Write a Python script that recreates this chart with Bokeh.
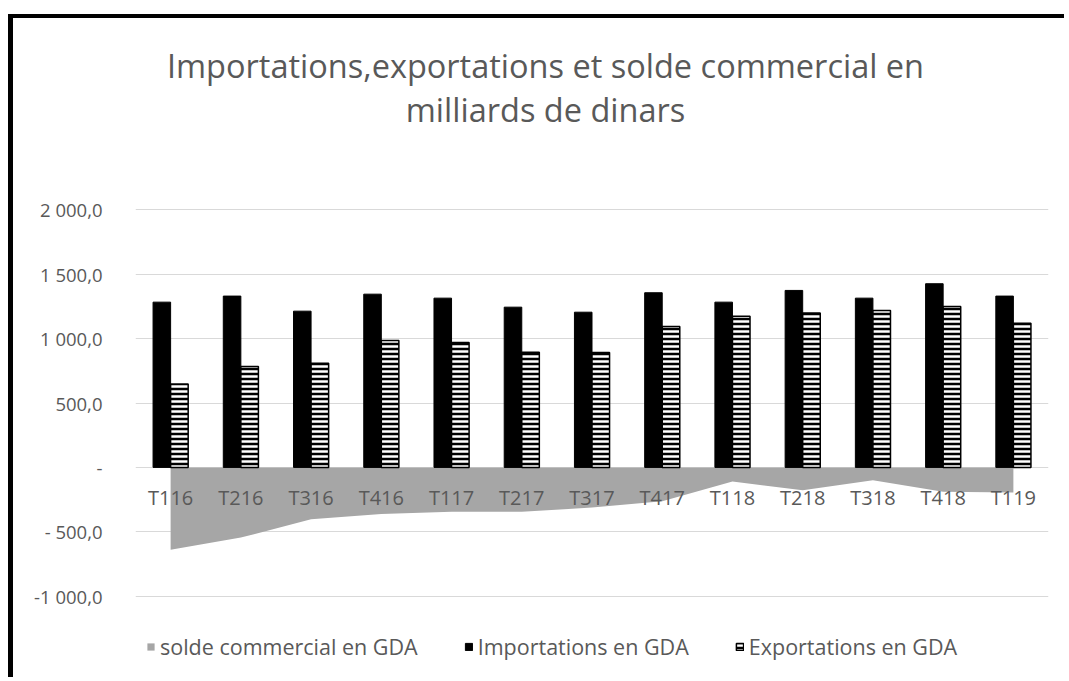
from bokeh.plotting import figure
from bokeh.models import (FactorRange, Legend, LegendItem, Label,
                          ColumnDataSource, FixedTicker, Range1d)
from bokeh.transform import dodge
from bokeh.core.properties import value
from bokeh.embed import file_html
from bokeh.resources import INLINE

quarters = ["T116", "T216", "T316", "T416", "T117", "T217", "T317",
            "T417", "T118", "T218", "T318", "T418", "T119"]
imports = [1283, 1330, 1213, 1345, 1314, 1244, 1205, 1356, 1283, 1374, 1314, 1426, 1330]
exports = [648, 783, 809, 985, 970, 894, 893, 1094, 1174, 1198, 1218, 1250, 1120]
solde = [-640, -545, -402, -362, -345, -345, -312, -262, -109, -178, -100, -188, -195]
y_ticks = [-1000, -500, 0, 500, 1000, 1500, 2000]
y_tick_labels = ["-1 000,0", "- 500,0", "-", "500,0", "1 000,0", "1 500,0", "2 000,0"]
title_lines = ["Importations,exportations et solde commercial en", "milliards de dinars"]
legend_labels = ["solde commercial en GDA", "Importations en GDA", "Exportations en GDA"]

FONT = "Open Sans"
GREY_TXT = "#595959"

src = ColumnDataSource(dict(q=quarters, imp=imports, exp=exports, sol=solde,
                            zero=[0] * len(quarters), lab_y=[-235] * len(quarters)))

# frame spans the full canvas height; only the fixed ticks get grid lines
p = figure(width=1056, height=663, x_range=FactorRange(*quarters, range_padding=0),
           y_range=Range1d(-1662, 3485), output_backend="svg", toolbar_location=None,
           x_axis_location=None, min_border_left=122, min_border_right=21,
           min_border_top=0, min_border_bottom=0)
p.styles = {"margin-left": "8px", "margin-top": "14px",
            "border-top": "4px solid black", "border-left": "5px solid black"}
p.outline_line_color = None
p.xgrid.visible = False
p.ygrid.grid_line_color = "#d9d9d9"
p.ygrid.grid_line_width = 1
p.yaxis.ticker = FixedTicker(ticks=y_ticks)
p.yaxis.major_label_overrides = {t: l for t, l in zip(y_ticks, y_tick_labels)}
p.yaxis.axis_line_color = None
p.yaxis.major_tick_line_color = None
p.yaxis.minor_tick_line_color = None
p.yaxis.major_tick_out = 0
p.yaxis.major_tick_in = 0
p.yaxis.major_label_standoff = 33
p.yaxis.major_label_text_font = FONT
p.yaxis.major_label_text_font_size = "18.5px"
p.yaxis.major_label_text_color = GREY_TXT

r_area = p.varea(x="q", y1="zero", y2="sol", source=src, fill_color="#a6a6a6")
r_imp = p.vbar(x=dodge("q", -0.125, range=p.x_range), top="imp", width=0.25,
               source=src, fill_color="black", line_color="black")
r_exp = p.vbar(x=dodge("q", 0.125, range=p.x_range), top="exp", width=0.25,
               source=src, fill_color="black", line_color="black", line_width=1.5,
               hatch_pattern="horizontal_line", hatch_color="white",
               hatch_scale=5, hatch_weight=2.5)
p.text(x="q", y="lab_y", text="q", source=src, text_align="center",
       text_baseline="middle", text_font=value(FONT), text_font_size="20px",
       text_color=GREY_TXT)

legend = Legend(items=[LegendItem(label=legend_labels[0], renderers=[r_area]),
                       LegendItem(label=legend_labels[1], renderers=[r_imp]),
                       LegendItem(label=legend_labels[2], renderers=[r_exp])],
                orientation="horizontal", location=(11, 20), margin=0, padding=2,
                spacing=46, label_standoff=5, glyph_width=9, glyph_height=9,
                label_height=24, label_text_font=FONT, label_text_font_size="21.5px",
                label_text_color=GREY_TXT, border_line_color=None,
                background_fill_alpha=0)
p.add_layout(legend, "center")

for txt, ypos in zip(title_lines, [43, 87]):
    p.add_layout(Label(x=527, y=ypos, x_units="canvas", y_units="canvas", text=txt,
                       text_align="center", text_baseline="alphabetic",
                       text_font=FONT, text_font_size="32.5px", text_color=GREY_TXT))

open("out.html", "w").write(file_html(p, INLINE))
